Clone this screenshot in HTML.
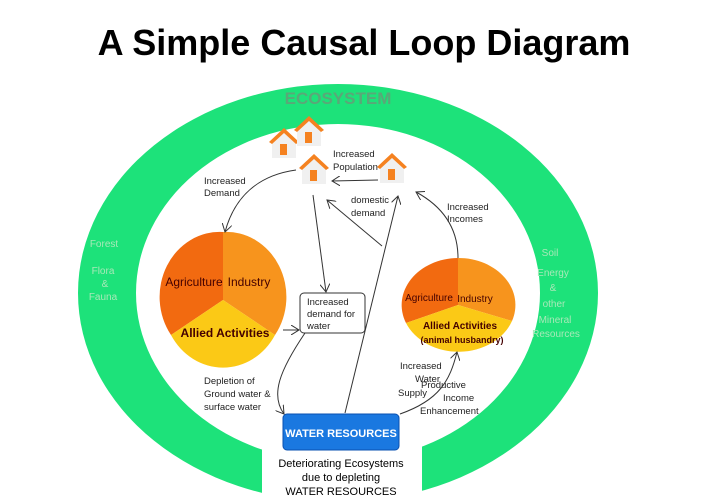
<!DOCTYPE html>
<html><head><meta charset="utf-8"><style>
html,body{margin:0;padding:0;background:#fff;width:728px;height:504px;overflow:hidden;font-family:"Liberation Sans",sans-serif}
svg{display:block}
</style></head><body>
<svg width="728" height="504" viewBox="0 0 728 504" xmlns="http://www.w3.org/2000/svg" font-family="Liberation Sans, sans-serif">
<defs><marker id="a" markerWidth="10" markerHeight="10" refX="8" refY="5" orient="auto" markerUnits="userSpaceOnUse"><path d="M0,0 L8,5 L0,10" fill="none" stroke="#333" stroke-width="1"/></marker>
<g id="h"><polygon points="0,10 12,0 24,10 24,28 0,28" fill="#f0f0f0"/><polygon points="-3,12 12,-2 27,12 24,14 12,3 0,14" fill="#f58220"/><rect x="8" y="14" width="7" height="11" fill="#f58220"/></g></defs>
<text x="364" y="55" text-anchor="middle" font-size="36" font-weight="bold" fill="#000">A Simple Causal Loop Diagram</text>
<path fill="#1de27a" fill-rule="evenodd" d="M78,293 a260,209 0 1,1 520,0 a260,209 0 1,1 -520,0 Z M136,293 a202,169 0 1,0 404,0 a202,169 0 1,0 -404,0 Z"/>
<polygon points="262,447 262,504 422,504 422,440" fill="#fff"/>
<text x="338" y="104" text-anchor="middle" font-size="17" font-weight="bold" fill="#5aa878">ECOSYSTEM</text>
<g fill="#a8e8b8" font-size="10" text-anchor="middle">
<text x="104" y="247">Forest</text><text x="103" y="274">Flora</text><text x="105" y="287">&amp;</text><text x="103" y="300">Fauna</text>
<text x="550" y="256">Soil</text><text x="553" y="276">Energy</text><text x="553" y="291">&amp;</text><text x="554" y="307">other</text><text x="555" y="323">Mineral</text><text x="556" y="337">Resources</text>
</g>
<g transform="translate(223,300)">
<path d="M0,0 L0,-68 A60,65 0 0,0 -52,35 Z" fill="#f26a10"/>
<path d="M0,0 L0,-68 A60,65 0 0,1 52,35 Z" fill="#f7941d"/>
<path d="M0,0 L-52,35 A60,65 0 0,0 52,35 Z" fill="#fbc916"/>
</g>
<text x="194" y="286" text-anchor="middle" font-size="12" fill="#400">Agriculture</text>
<text x="249" y="286" text-anchor="middle" font-size="12" fill="#400">Industry</text>
<text x="225" y="337" text-anchor="middle" font-size="12" font-weight="bold" fill="#400">Allied Activities</text>
<g transform="translate(458,305)">
<path d="M0,0 L0,-47 A57,47 0 0,0 -52,18 Z" fill="#f26a10"/>
<path d="M0,0 L0,-47 A57,47 0 0,1 54,16 Z" fill="#f7941d"/>
<path d="M0,0 L-52,18 A57,47 0 0,0 54,16 Z" fill="#fbc916"/>
</g>
<text x="429" y="301" text-anchor="middle" font-size="10" fill="#400">Agriculture</text>
<text x="475" y="302" text-anchor="middle" font-size="10" fill="#400">Industry</text>
<text x="460" y="329" text-anchor="middle" font-size="10" font-weight="bold" fill="#400">Allied Activities</text>
<text x="462" y="343" text-anchor="middle" font-size="9" font-weight="bold" fill="#400">(animal husbandry)</text>
<use href="#h" x="272" y="130"/><use href="#h" x="297" y="118"/><use href="#h" x="302" y="156"/><use href="#h" x="380" y="155"/>
<rect x="300" y="293" width="65" height="40" rx="4" fill="#fff" stroke="#333"/>
<text font-size="9.5" fill="#222"><tspan x="307" y="305">Increased</tspan><tspan x="307" y="317">demand for</tspan><tspan x="307" y="329">water</tspan></text>
<rect x="283" y="414" width="116" height="36" rx="4" fill="#1a78e0" stroke="#0a50b0"/>
<text x="341" y="437" text-anchor="middle" font-size="11" font-weight="bold" fill="#fff">WATER RESOURCES</text>
<text font-size="11" fill="#000" text-anchor="middle"><tspan x="341" y="467">Deteriorating Ecosystems</tspan><tspan x="341" y="481">due to depleting</tspan><tspan x="341" y="495">WATER RESOURCES</tspan></text>
<g font-size="9.5" fill="#222">
<text x="204" y="184">Increased</text><text x="204" y="196">Demand</text>
<text x="333" y="157">Increased</text><text x="333" y="170">Population</text>
<text x="351" y="203">domestic</text><text x="351" y="216">demand</text>
<text x="447" y="210">Increased</text><text x="447" y="222">Incomes</text>
<text x="204" y="384">Depletion of</text><text x="204" y="397">Ground water &amp;</text><text x="204" y="410">surface water</text>
<text x="400" y="369">Increased</text><text x="415" y="382">Water</text><text x="398" y="396">Supply</text>
<text x="421" y="388">Productive</text><text x="443" y="401">Income</text><text x="420" y="414">Enhancement</text>
</g>
<g fill="none" stroke="#333" stroke-width="1" marker-end="url(#a)">
<path d="M296,170 C260,175 235,195 225,232"/>
<path d="M378,180 L332,181"/>
<path d="M313,195 L326,292"/>
<path d="M345,413 L398,196"/>
<path d="M382,246 L327,200"/>
<path d="M458,258 C458,225 440,205 416,192"/>
<path d="M283,330 L299,330"/>
<path d="M305,333 C280,370 270,395 284,414"/>
<path d="M400,414 C440,400 450,380 457,352"/>
</g>
</svg>
</body></html>
